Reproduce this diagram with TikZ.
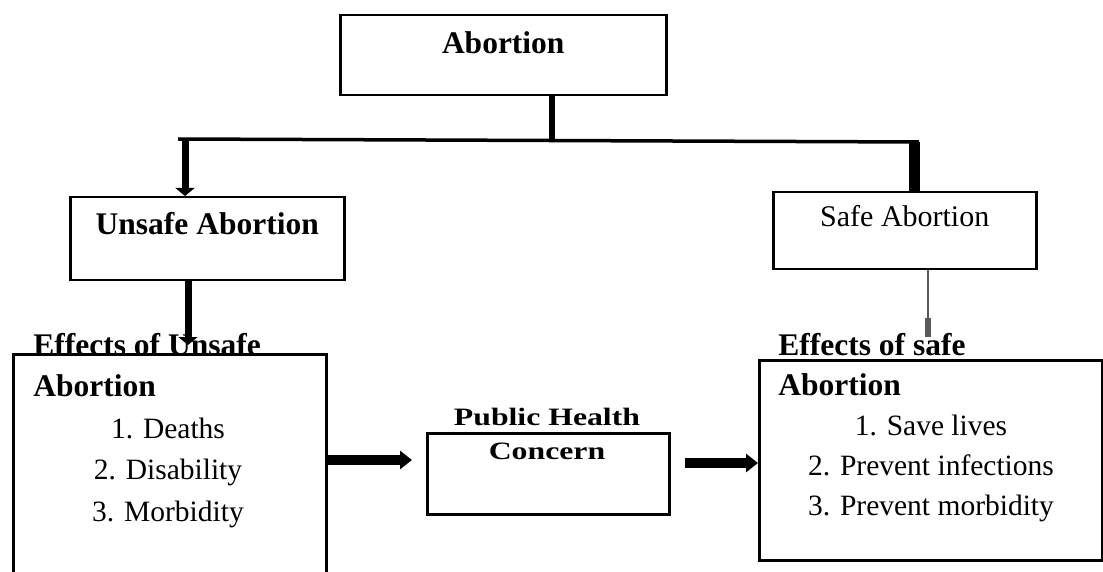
\documentclass[tikz,border=0pt]{standalone}
\usepackage{fontspec}
\setmainfont{Liberation Serif}
\newfontfamily\widefont[FakeStretch=1.27]{Liberation Serif}
\usetikzlibrary{arrows.meta}
\tikzset{
  box/.style={draw, line width=1.25pt, inner sep=0pt, anchor=north west},
  head/.style={font=\fontsize{15.75}{18}\selectfont\bfseries, inner sep=0pt},
  item/.style={font=\fontsize{14.75}{18}\selectfont, inner sep=0pt, anchor=base},
  pubtext/.style={font=\widefont\bfseries\fontsize{12.5}{14}\selectfont, inner sep=0pt, anchor=base},
  link/.style={line width=1.75pt},
  downarrow/.style={line width=3.5pt, -{Triangle[width=9.5pt,length=4pt]}},
  sidearrow/.style={line width=4.75pt, -{Triangle[width=9pt,length=6pt]}},
  safelink/.style={line width=1.25pt, black!65, -{Rectangle[width=3pt,length=9.5pt]}},
}
\begin{document}
\begin{tikzpicture}[x=0.5pt,y=-0.5pt]
\useasboundingbox (0,0) rectangle (1103,572);
\clip (0,0) rectangle (1103,572);
\node[box, head, minimum width=163pt, text height=19pt, text depth=21pt] (abort) at (339,14) {Abortion};
\node[box, head, minimum width=137pt, text height=18.5pt, text depth=23pt] (unsafe) at (69,196) {Unsafe Abortion};
\node[box, font=\fontsize{15}{18}\selectfont, minimum width=131.5pt, text height=17pt, text depth=21.5pt] (safe) at (772,191) {Safe Abortion};
\node[box, minimum width=156.5pt, minimum height=113.5pt] (effu) at (12,353) {};
\node[box, minimum width=171.5pt, minimum height=100pt] (effs) at (758,359) {};
\node[box, minimum width=121pt, minimum height=40.5pt] (pub) at (426,432) {};
\node[head, anchor=base west] (effuhd) at (33,355) {Effects of Unsafe};
\node[head, anchor=base west] (effuab) at (33,396.5) {Abortion};
\foreach \t [count=\i] in {1. Deaths, 2. Disability, 3. Morbidity}
  \node[item] (effu\i) at (168,396.5+41.5*\i) {\t};
\node[head, anchor=base west] (effshd) at (778,355) {Effects of safe};
\node[head, anchor=base west] (effsab) at (778,395) {Abortion};
\foreach \t [count=\i] in {1. Save lives, 2. Prevent infections, 3. Prevent morbidity}
  \node[item] (effs\i) at (931,395+40*\i) {\t};
\node[pubtext] (pubt1) at (547,425) {Public Health};
\node[pubtext] (pubt2) at (547,459) {Concern};
\coordinate (hl) at (178,139);
\coordinate (hr) at (919,142);
\coordinate (jn) at (552,140);
\coordinate (jl) at (185,139);
\coordinate (jr) at (914,142);
\coordinate (du) at (188,300);
\coordinate (ds) at (928,300);
\coordinate (ra) at (0,460);
\coordinate (rb) at (0,463);
\draw[line width=3pt] (abort.south -| jn) -- (jn);
\draw[link] (hl) -- (hr);
\draw[downarrow] (jl) -- (unsafe.north -| jl);
\draw[line width=5.5pt] (jr) -- (safe.north -| jr);
\draw[downarrow, shorten >=4pt] (unsafe.south -| du) -- (effu.north -| du);
\draw[safelink, shorten >=11pt] (safe.south -| ds) -- (effs.north -| ds);
\draw[sidearrow, shorten >=7pt] (effu.east |- ra) -- (pub.west |- ra);
\draw[sidearrow, shorten <=7pt] (pub.east |- rb) -- (effs.west |- rb);
\end{tikzpicture}
\end{document}
